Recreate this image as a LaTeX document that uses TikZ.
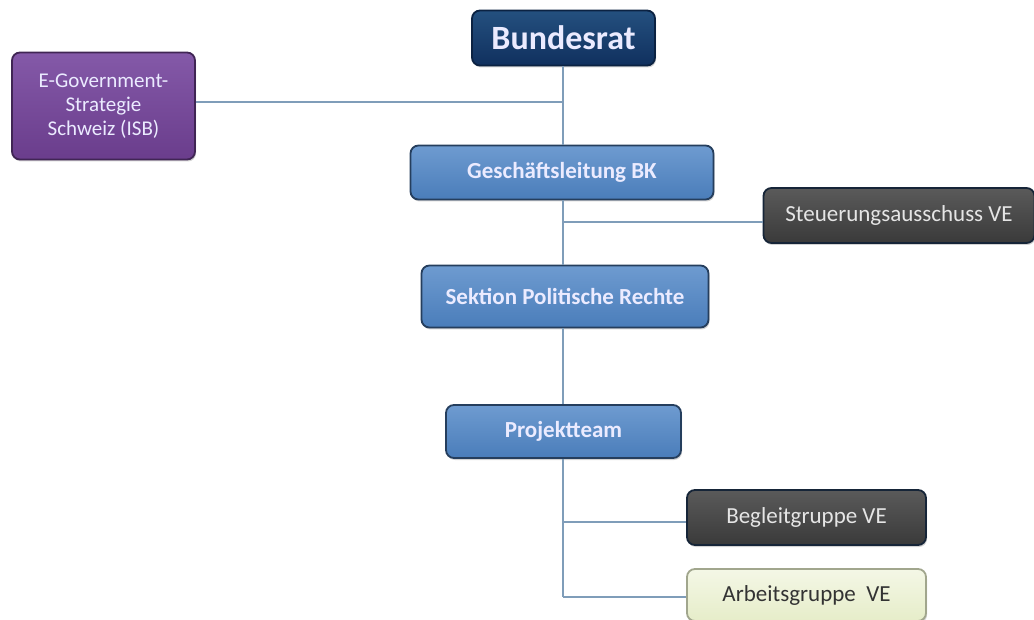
\documentclass[tikz,border=0pt]{standalone}
\usepackage{fontspec}
\setmainfont{Carlito}
\usetikzlibrary{shadows}
\definecolor{navy}{HTML}{10305E}
\definecolor{navytop}{HTML}{24507F}
\definecolor{purp}{HTML}{6A3D8C}
\definecolor{purptop}{HTML}{8459A8}
\definecolor{blu}{HTML}{4A7DBA}
\definecolor{blutop}{HTML}{6E9BD0}
\definecolor{gry}{HTML}{3A3A3A}
\definecolor{grytop}{HTML}{5A5A5A}
\definecolor{pale}{HTML}{E6EDC9}
\definecolor{paletop}{HTML}{F4F7E6}
\definecolor{linec}{HTML}{7F9DB9}
\tikzset{
  box/.style={rounded corners=8pt, line width=1.8pt, font=\bfseries\fontsize{23}{26}\selectfont, text=white!92!blue, align=center, inner sep=0pt, drop shadow={shadow xshift=1pt, shadow yshift=-2pt, opacity=0.35}},
  navybox/.style={box, draw=navy!70!black, top color=navytop, bottom color=navy},
  purpbox/.style={box, draw=purp!60!black, top color=purptop, bottom color=purp, font=\fontsize{21}{24}\selectfont},
  blubox/.style={box, draw=blu!50!black, top color=blutop, bottom color=blu},
  grybox/.style={box, draw=blu!30!black, top color=grytop, bottom color=gry, font=\fontsize{23}{26}\selectfont, text=white!90!black},
  palebox/.style={box, draw=pale!70!black, top color=paletop, bottom color=pale, text=black!80, font=\fontsize{23}{26}\selectfont},
  conn/.style={draw=linec, line width=1.8pt}
}
\begin{document}
\begin{tikzpicture}[x=1pt,y=-1pt]
\useasboundingbox (0,0) rectangle (1034,620);
\node[navybox, minimum width=183pt, minimum height=55pt, font=\bfseries\fontsize{34}{38}\selectfont] (br) at (563.5,38) {Bundesrat};
\node[purpbox, minimum width=183pt, minimum height=107pt] (eg) at (103.5,106) {E-Government-\\Strategie\\Schweiz (ISB)};
\node[blubox, minimum width=303pt, minimum height=54pt] (gl) at (562,172.5) {Geschäftsleitung BK};
\node[grybox, minimum width=271pt, minimum height=55pt] (sa) at (899,215.5) {Steuerungsausschuss VE};
\node[blubox, minimum width=287pt, minimum height=62pt] (sp) at (565,296.5) {Sektion Politische Rechte};
\node[blubox, minimum width=235pt, minimum height=53pt] (pt) at (563.5,431.5) {Projektteam};
\node[grybox, minimum width=239pt, minimum height=55pt] (bg) at (806.5,517.5) {Begleitgruppe VE};
\node[palebox, minimum width=239pt, minimum height=52pt] (ag) at (806.5,595) {Arbeitsgruppe\ \ VE};
\coordinate (j1) at (563,102);
\coordinate (j2) at (563,222);
\coordinate (j3) at (563,522);
\coordinate (j4) at (563,597);
\draw[conn] (br.south -| j1) -- (gl.north -| j1);
\draw[conn] (gl.south -| j1) -- (sp.north -| j1);
\draw[conn] (eg.east |- j1) -- (j1);
\draw[conn] (j2) -- (sa.west |- j2);
\draw[conn] (sp.south -| j1) -- (pt.north -| j1);
\draw[conn] (pt.south -| j1) -- (j4);
\draw[conn] (j3) -- (bg.west |- j3);
\draw[conn] (j4) -- (ag.west |- j4);
\end{tikzpicture}
\end{document}
